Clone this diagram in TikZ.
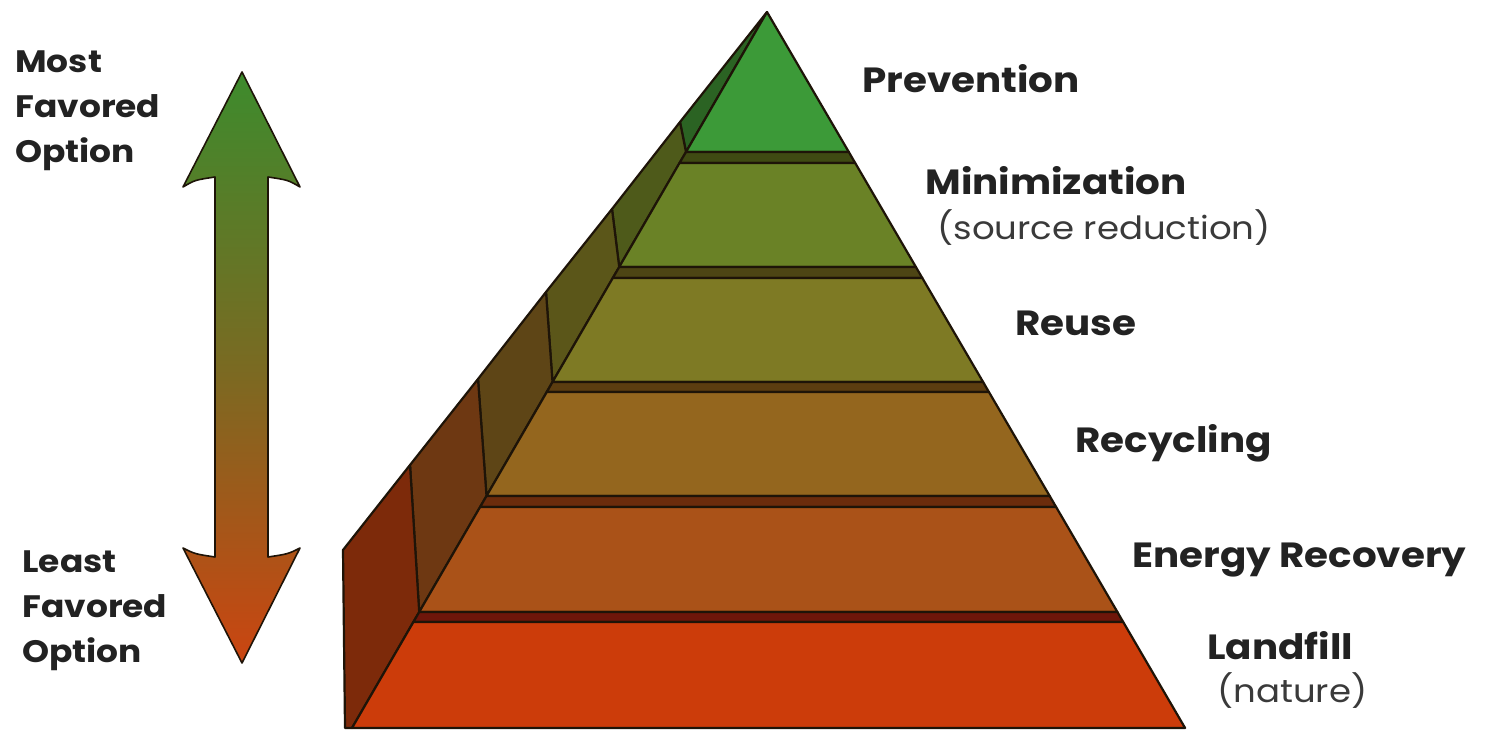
\documentclass[tikz,border=0pt]{standalone}
\usepackage{fontspec}
\setmainfont{Poppins}[FakeStretch=1.11]
\definecolor{outl}{HTML}{1E1408}
\definecolor{txt}{HTML}{222222}
\definecolor{subtxt}{HTML}{3A3A3A}
\definecolor{fa}{HTML}{3C9A38}
\definecolor{fb}{HTML}{6A8226}
\definecolor{fc}{HTML}{7E7A24}
\definecolor{fd}{HTML}{94661E}
\definecolor{fe}{HTML}{AA5218}
\definecolor{ff}{HTML}{CC3C0A}
\definecolor{la}{HTML}{3F4A12}
\definecolor{lb}{HTML}{4D4514}
\definecolor{lc}{HTML}{5C3D10}
\definecolor{ld}{HTML}{6C2C0C}
\definecolor{le}{HTML}{6E160A}
\definecolor{sa}{HTML}{2B6323}
\definecolor{sb}{HTML}{4E5A1A}
\definecolor{sc}{HTML}{5B5619}
\definecolor{sd}{HTML}{5E4516}
\definecolor{se}{HTML}{6E3812}
\definecolor{sf}{HTML}{7D2A0A}
\definecolor{agreen}{HTML}{3D8B2D}
\definecolor{amid}{HTML}{7A6A22}
\definecolor{aorange}{HTML}{CB4511}
\pgfdeclareverticalshading{arrowshade}{100bp}{color(0bp)=(aorange); color(25bp)=(aorange); color(50bp)=(amid); color(75bp)=(agreen); color(100bp)=(agreen)}
\begin{document}
\begin{tikzpicture}[x=0.5pt,y=-0.5pt,
  face/.style={draw=outl,line width=1.1pt,line join=round},
  lbl/.style={anchor=base west,inner sep=0pt,font=\fontsize{17.5}{20}\selectfont\bfseries,text=txt},
  sublbl/.style={anchor=base west,inner sep=0pt,font=\fontsize{16}{20}\selectfont,text=subtxt},
  sidelbl/.style={anchor=north west,inner sep=0pt,align=left,font=\fontsize{15.5}{22.5}\selectfont\bfseries,text=txt}]
\useasboundingbox (0,0) rectangle (1497,731);
% key points
\coordinate (A) at (767,12);
\coordinate (P1) at (680,122);
\coordinate (P2) at (612,209);
\coordinate (P3) at (546,292);
\coordinate (P4) at (478,379);
\coordinate (P5) at (410,465);
\coordinate (P6) at (343,550);
\coordinate (V1) at (686,152);
\coordinate (V2) at (619.2,267);
\coordinate (V3) at (552.5,382);
\coordinate (V4) at (486.5,496);
\coordinate (V5) at (419.2,612);
\coordinate (B0) at (345,728);
% side faces
\filldraw[face,fill=sa] (A) -- (P1) -- (V1) -- cycle;
\filldraw[face,fill=sb] (P1) -- (P2) -- (V2) -- (V1) -- cycle;
\filldraw[face,fill=sc] (P2) -- (P3) -- (V3) -- (V2) -- cycle;
\filldraw[face,fill=sd] (P3) -- (P4) -- (V4) -- (V3) -- cycle;
\filldraw[face,fill=se] (P4) -- (P5) -- (V5) -- (V4) -- cycle;
\filldraw[face,fill=sf] (P5) -- (P6) -- (B0) -- (352,728) -- (V5) -- cycle;
% front faces and ledges
\filldraw[face,fill=fa] (A) -- (V1) -- (848.8,152) -- cycle;
\filldraw[face,fill=la] (V1) -- (679.5,163) -- (855.2,163) -- (848.8,152) -- cycle;
\filldraw[face,fill=fb] (679.5,163) -- (V2) -- (915.9,267) -- (855.2,163) -- cycle;
\filldraw[face,fill=lb] (V2) -- (612.8,278) -- (922.3,278) -- (915.9,267) -- cycle;
\filldraw[face,fill=fc] (612.8,278) -- (V3) -- (983.1,382) -- (922.3,278) -- cycle;
\filldraw[face,fill=lc] (V3) -- (546.8,392) -- (988.9,392) -- (983.1,382) -- cycle;
\filldraw[face,fill=fd] (546.8,392) -- (V4) -- (1049.7,496) -- (988.9,392) -- cycle;
\filldraw[face,fill=ld] (V4) -- (480.1,507) -- (1056.1,507) -- (1049.7,496) -- cycle;
\filldraw[face,fill=fe] (480.1,507) -- (V5) -- (1117.4,612) -- (1056.1,507) -- cycle;
\filldraw[face,fill=le] (V5) -- (413.4,622) -- (1123.2,622) -- (1117.4,612) -- cycle;
\filldraw[face,fill=ff] (413.4,622) -- (352,728) -- (1185.1,728) -- (1123.2,622) -- cycle;
% double arrow
\path[draw=outl,line width=0.8pt,line join=round,shading=arrowshade]
  (242,72) -- (300,187) .. controls (288,180) .. (268,177) -- (268,557)
  .. controls (288,554) .. (300,548) -- (242,663) -- (183,548)
  .. controls (195,554) .. (215,557) -- (215,177)
  .. controls (195,180) .. (183,187) -- cycle;
% labels
\node[sidelbl] (most) at (15,50) {Most\\Favored\\Option};
\node[sidelbl] (least) at (22,550) {Least\\Favored\\Option};
\node[lbl] (prev) at (862,93) {Prevention};
\node[lbl] (mini) at (925,195) {Minimization};
\node[sublbl] (src) at (937,240) {(source reduction)};
\node[lbl] (reuse) at (1015,336) {Reuse};
\node[lbl] (recy) at (1075,452) {Recycling};
\node[lbl] (energy) at (1132,567) {Energy Recovery};
\node[lbl] (land) at (1207,659) {Landfill};
\node[sublbl] (nat) at (1217,702) {(nature)};
\end{tikzpicture}
\end{document}
